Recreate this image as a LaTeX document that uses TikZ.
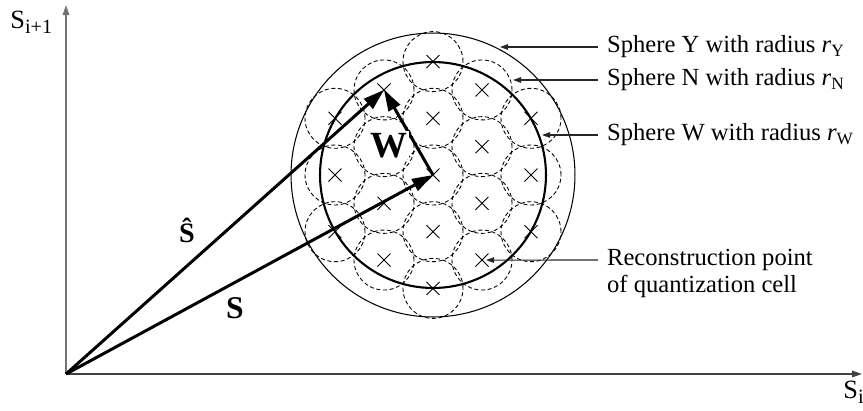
\documentclass[tikz,border=0pt]{standalone}
\usepackage{fontspec}
\setmainfont{Liberation Serif}
\usetikzlibrary{arrows.meta,calc,positioning}
\tikzset{
  axis/.style={-{Triangle[length=2mm,width=1.3mm]},line width=0.8pt},
  vec/.style={-{Triangle[length=4.2mm,width=2.6mm]},line width=1.7pt},
  pointer/.style={-{Triangle[length=1.6mm,width=1.1mm]},line width=0.6pt,draw=black!85},
  ring/.style={draw,line width=0.5pt,dash pattern=on 2.3pt off 1.5pt},
  cellx/.style={line width=0.5pt},
  lab/.style={anchor=west,inner xsep=5pt,inner ysep=0pt,font=\fontsize{14}{15.3}\selectfont},
  veclab/.style={inner sep=1pt,anchor=base}
}
\newcommand{\axsub}[1]{\raisebox{-0.45ex}{\fontsize{11.5}{11.5}\selectfont #1}}

\begin{document}
\begin{tikzpicture}[x=0.02cm,y=-0.02cm]
  \useasboundingbox (0,0) rectangle (863,410);

  % axes
  \coordinate (O) at (66,374);
  \coordinate (ytop) at (66,5);
  \coordinate (xend) at (862,374);
  \draw[axis,black!55] (O) -- (ytop);
  \draw[axis,black!75] (O) -- (xend);
  \node[anchor=base west,inner sep=0pt,font=\fontsize{15}{15}\selectfont] (ylab) at (10,28) {S\axsub{i+1}};
  \node[anchor=base west,inner sep=0pt,font=\fontsize{15}{15}\selectfont] (xlab) at (843,398) {S\axsub{i}};

  % spheres around the centre point
  \coordinate (C) at (433,175);
  \draw[line width=0.6pt] (C) circle (2.84cm);
  \draw[line width=1.2pt] (C) circle (2.26cm);

  % quantization cells (hexagonal lattice)
  \foreach \i/\j in {0/-2,0/-1,0/0,0/1,0/2,
                     -1/-1.5,-1/-0.5,-1/0.5,-1/1.5,1/-1.5,1/-0.5,1/0.5,1/1.5,
                     -2/-1,-2/0,-2/1,2/-1,2/0,2/1}{
    \draw[ring] ($(C)+(\i*49,\j*56.7)$) circle (0.6cm);
    \draw[cellx] ($(C)+(\i*49-6.5,\j*56.7-6.5)$) -- ++(13,13)
      ++(0,-13) -- ++(-13,13);
  }
  \coordinate (shat) at ($(C)+(-49,-85.05)$);
  \coordinate (rp) at ($(C)+(53,85.05)$);

  % vectors
  \draw[vec] (O) -- (C);
  \draw[vec] (O) -- (shat);
  \draw[vec] (C) -- (shat);
  \node[veclab,fill=white,font=\fontsize{21}{21}\selectfont\bfseries] (wlab) at (389,157) {W};
  \node[veclab,font=\fontsize{16}{16}\selectfont\bfseries] (shlab) at (187,242) {Ŝ};
  \node[veclab,font=\fontsize{18}{18}\selectfont\bfseries] (slab) at (235,318) {S};

  % labels
  \coordinate (tipY) at (500,47);
  \coordinate (tipN) at (513,80);
  \coordinate (tipW) at (542,135);
  \node[lab] (labY) at (598,47) {Sphere Y with radius \textit{r}\textsubscript{Y}};
  \node[lab] (labN) at (598,80) {Sphere N with radius \textit{r}\textsubscript{N}};
  \node[lab] (labW) at (598,135) {Sphere W with radius \textit{r}\textsubscript{W}};
  \node[lab,anchor=north west,align=left] (labR) at (598,249)
    {Reconstruction point\\of quantization cell};
  \draw[pointer] (labY.west) -- (tipY);
  \draw[pointer] (labN.west) -- (tipN);
  \draw[pointer] (labW.west) -- (tipW);
  \draw[pointer] ([yshift=-0.22cm]labR.north west) -- (rp);
\end{tikzpicture}
\end{document}
